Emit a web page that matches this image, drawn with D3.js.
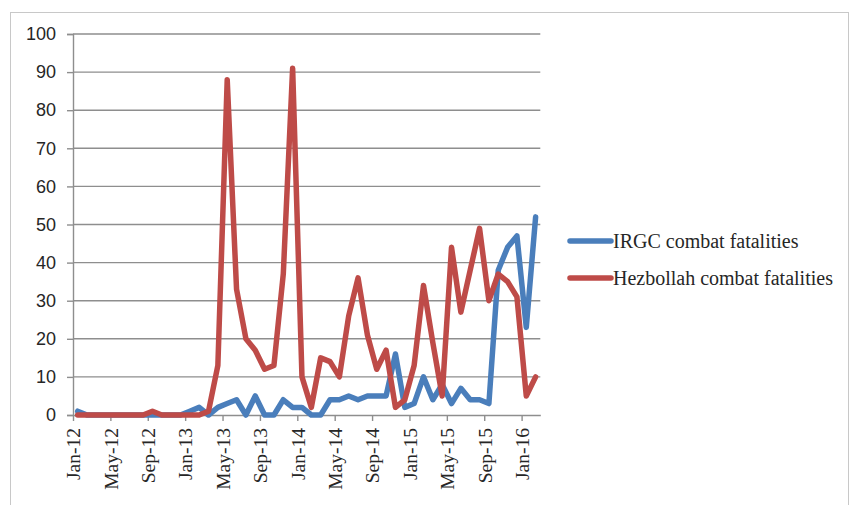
<!DOCTYPE html>
<html>
<head>
<meta charset="utf-8">
<script src="https://cdn.jsdelivr.net/npm/d3@7"></script>
<style>
  body { margin: 0; background: #fff; }
</style>
</head>
<body>
<svg width="857" height="505"></svg>
<script>
// monthly data, Jan-12 .. Feb-16
var months = ["Jan-12","Feb-12","Mar-12","Apr-12","May-12","Jun-12","Jul-12","Aug-12","Sep-12","Oct-12","Nov-12","Dec-12",
  "Jan-13","Feb-13","Mar-13","Apr-13","May-13","Jun-13","Jul-13","Aug-13","Sep-13","Oct-13","Nov-13","Dec-13",
  "Jan-14","Feb-14","Mar-14","Apr-14","May-14","Jun-14","Jul-14","Aug-14","Sep-14","Oct-14","Nov-14","Dec-14",
  "Jan-15","Feb-15","Mar-15","Apr-15","May-15","Jun-15","Jul-15","Aug-15","Sep-15","Oct-15","Nov-15","Dec-15",
  "Jan-16","Feb-16"];
var irgc = [1,0,0,0,0,0,0,0,0,0,0,0,
  1,2,0,2,3,4,0,5,0,0,4,2,
  2,0,0,4,4,5,4,5,5,5,16,2,
  3,10,4,8,3,7,4,4,3,38,44,47,
  23,52];
var hezbollah = [0,0,0,0,0,0,0,0,1,0,0,0,
  0,0,1,13,88,33,20,17,12,13,37,91,
  10,2,15,14,10,26,36,21,12,17,2,4,
  13,34,19,5,44,27,38,49,30,37,35,31,
  5,10];
var yTicks = [0,10,20,30,40,50,60,70,80,90,100];
var xTickIdx = [0,4,8,12,16,20,24,28,32,36,40,44,48];
var seriesNames = ["IRGC combat fatalities", "Hezbollah combat fatalities"];
var colors = ["#4a7ebb", "#be4b48"];

var svg = d3.select("svg");

// chart border
svg.append("rect")
  .attr("x", 10.5).attr("y", 12.5)
  .attr("width", 838).attr("height", 500)
  .attr("fill", "none").attr("stroke", "#c8c8c8");

var x = d3.scaleLinear().domain([0, months.length]).range([73, 540.3]);
var y = d3.scaleLinear().domain([0, 100]).range([415, 34]);

// gridlines
svg.append("g").selectAll("line")
  .data(yTicks.slice(1))
  .enter().append("line")
  .attr("x1", x(0)).attr("x2", x(months.length))
  .attr("y1", function(d){ return y(d); })
  .attr("y2", function(d){ return y(d); })
  .attr("stroke", "#8e8e8e").attr("stroke-width", 1.4);

// y axis
var yAxis = svg.append("g")
  .attr("transform", "translate(" + x(0) + ",0)")
  .call(d3.axisLeft(y).tickValues(yTicks).tickSize(6).tickPadding(11));
yAxis.select(".domain").attr("stroke", "#8e8e8e").attr("stroke-width", 1.4);
yAxis.selectAll(".tick line").attr("stroke", "#8e8e8e").attr("stroke-width", 1.4);
yAxis.selectAll("text")
  .attr("font-family", "'Liberation Sans', Arial, sans-serif")
  .attr("font-size", 18).attr("fill", "#262626");

// x axis
var xAxis = svg.append("g")
  .attr("transform", "translate(0," + y(0) + ")")
  .call(d3.axisBottom(x).tickValues(xTickIdx).tickSize(6).tickSizeOuter(0)
    .tickFormat(function(i){ return months[i]; }));
xAxis.select(".domain").attr("stroke", "#8e8e8e").attr("stroke-width", 1.4);
xAxis.selectAll(".tick line").attr("stroke", "#8e8e8e").attr("stroke-width", 1.4);
xAxis.selectAll("text")
  .attr("font-family", "'Liberation Serif', 'Times New Roman', serif")
  .attr("font-size", 19.5).attr("fill", "#262626")
  .attr("text-anchor", "end")
  .attr("transform", "rotate(-90)")
  .attr("x", -13).attr("y", 0).attr("dy", "0.35em");

// lines
var line = d3.line()
  .x(function(d, i){ return x(i + 0.5); })
  .y(function(d){ return y(d); });

[irgc, hezbollah].forEach(function(s, k){
  svg.append("path")
    .datum(s)
    .attr("d", line)
    .attr("fill", "none")
    .attr("stroke", colors[k])
    .attr("stroke-width", 5.5)
    .attr("stroke-linejoin", "round")
    .attr("stroke-linecap", "round");
});

// legend
var legend = svg.append("g").selectAll("g")
  .data(seriesNames)
  .enter().append("g")
  .attr("transform", function(d, i){ return "translate(570," + (241 + i * 37) + ")"; });
legend.append("line")
  .attr("x1", 0).attr("x2", 41)
  .attr("stroke", function(d, i){ return colors[i]; })
  .attr("stroke-width", 5.5).attr("stroke-linecap", "round");
legend.append("text")
  .attr("x", 43).attr("dy", "0.35em")
  .attr("font-family", "'Liberation Serif', 'Times New Roman', serif")
  .attr("font-size", 20).attr("fill", "#262626")
  .text(function(d){ return d; });
</script>
</body>
</html>
